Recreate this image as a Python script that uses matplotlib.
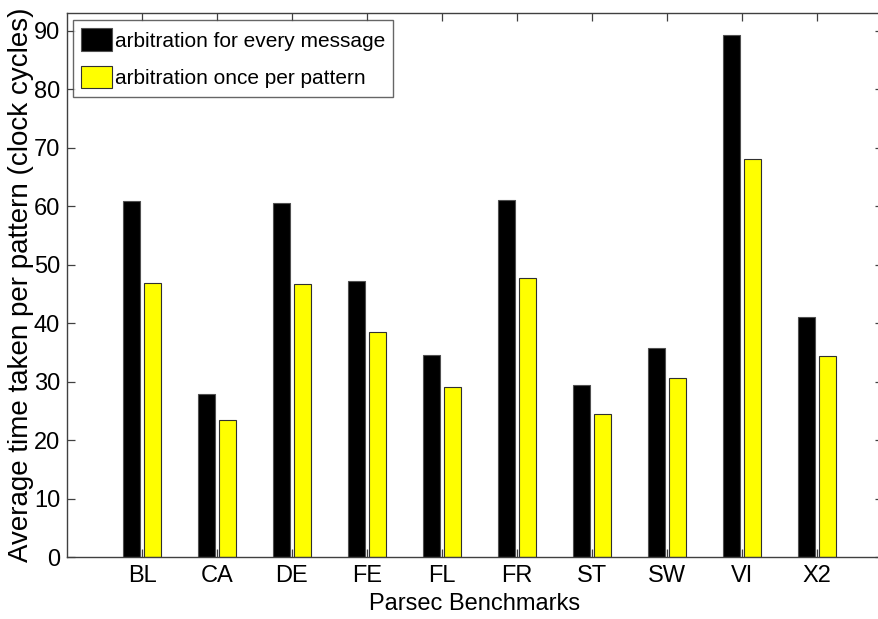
import matplotlib
matplotlib.use('Agg')
import matplotlib.pyplot as plt
import numpy as np

categories = ['BL', 'CA', 'DE', 'FE', 'FL', 'FR', 'ST', 'SW', 'VI', 'X2']
every_message = [60.9, 27.9, 60.6, 47.2, 34.5, 61.1, 29.5, 35.7, 89.3, 41.0]
once_per_pattern = [46.9, 23.4, 46.7, 38.5, 29.0, 47.8, 24.4, 30.6, 68.1, 34.3]
yticks = list(range(0, 100, 10))
series_labels = ['arbitration for every message', 'arbitration once per pattern']

plt.rcParams['font.family'] = ['Liberation Sans', 'DejaVu Sans']

W, H = 879, 619
fig = plt.figure(figsize=(W / 100, H / 100), dpi=100)
ax = fig.add_axes([67 / W, 62 / H, 816 / W, 543.7 / H])

x = np.arange(1, len(categories) + 1)
ax.bar(x - 0.145, every_message, width=0.225, color='black',
       edgecolor='#505050', linewidth=0.8, label=series_labels[0])
ax.bar(x + 0.145, once_per_pattern, width=0.225, color='#ffff00',
       edgecolor='#303030', linewidth=0.8, label=series_labels[1])

ax.set_xlim(0, 10.88)
ax.set_ylim(0, 93)
ax.set_xticks(x)
ax.set_xticklabels(categories)
ax.set_yticks(yticks)

ax.tick_params(axis='both', direction='in', length=6, width=0.9,
               color='#404040', labelsize=17, top=True, right=True)
ax.tick_params(axis='x', pad=6)
ax.tick_params(axis='y', pad=5)
for sp in ax.spines.values():
    sp.set_color('#404040')
    sp.set_linewidth(1.0)

ax.set_xlabel('Parsec Benchmarks', fontsize=17, labelpad=4)
ax.set_ylabel('Average time taken per pattern (clock cycles)', fontsize=20, labelpad=0)

leg = ax.legend(loc='upper left', bbox_to_anchor=(73 / W, 1 - 20 / H),
                bbox_transform=fig.transFigure, fontsize=15, frameon=True,
                fancybox=False, borderaxespad=0, borderpad=0.4,
                labelspacing=0.7, handlelength=1.45, handleheight=1.3,
                handletextpad=0.15)
leg.get_frame().set_edgecolor('#404040')
leg.get_frame().set_linewidth(1.0)

fig.savefig('out.png', dpi=100)
